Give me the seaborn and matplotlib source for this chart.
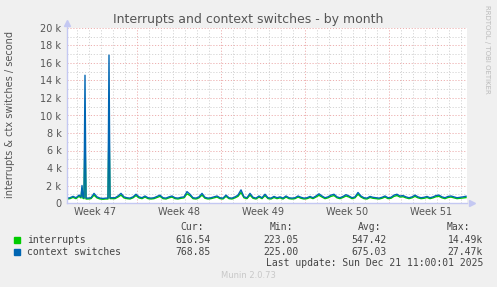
import numpy as np
import pandas as pd
import matplotlib
matplotlib.use("Agg")
import matplotlib.pyplot as plt
import seaborn as sns

# ---------------- data (per second), sampled every 6 h from Nov 18 04:00 ----------------
hours_base = list(range(0, 800, 6))
ctx_base = [
    550, 600, 760, 600, 900, 2000, 14600, 560, 600, 1100,
    700, 560, 520, 560, 16900, 600, 600, 800, 1100, 700,
    600, 560, 700, 1000, 700, 600, 800, 600, 560, 600,
    750, 900, 600, 560, 700, 800, 600, 560, 650, 700,
    1300, 1000, 600, 560, 700, 1100, 650, 560, 600, 700,
    800, 600, 560, 900, 600, 560, 700, 900, 1500, 700,
    600, 1100, 650, 560, 800, 600, 1000, 600, 560, 750,
    600, 700, 560, 800, 600, 560, 600, 800, 650, 560,
    600, 750, 600, 800, 1050, 800, 600, 700, 900, 1000,
    700, 600, 750, 950, 800, 600, 700, 1200, 800, 600,
    560, 750, 650, 600, 560, 650, 800, 600, 650, 900,
    1000, 800, 850, 700, 600, 700, 900, 700, 600, 650,
    750, 600, 700, 850, 900, 700, 600, 750, 800, 700,
    600, 650, 700, 770,
]
int_base = [
    450, 500, 640, 500, 760, 1700, 8100, 460, 500, 900,
    580, 460, 430, 460, 9400, 500, 500, 680, 900, 580,
    500, 460, 590, 850, 580, 500, 680, 500, 460, 500,
    630, 760, 500, 460, 590, 680, 500, 460, 540, 590,
    1050, 850, 500, 460, 590, 900, 540, 460, 500, 590,
    680, 500, 460, 760, 500, 460, 590, 760, 1200, 590,
    500, 900, 540, 460, 680, 500, 850, 500, 460, 630,
    500, 590, 460, 680, 500, 460, 500, 680, 540, 460,
    500, 630, 500, 680, 880, 680, 500, 590, 760, 850,
    590, 500, 630, 800, 680, 500, 590, 1000, 680, 500,
    460, 630, 540, 500, 460, 540, 680, 500, 540, 760,
    850, 680, 720, 590, 500, 590, 760, 590, 500, 540,
    630, 500, 590, 720, 760, 590, 500, 630, 680, 590,
    500, 540, 590, 620,
]
# extra 2-hourly samples next to the short spikes
hours_extra = [28, 32, 34, 38, 82, 86]
ctx_extra = [700, 650, 600, 560, 560, 600]
int_extra = [580, 540, 500, 460, 460, 500]

week_labels = ["Week 47", "Week 48", "Week 49", "Week 50", "Week 51"]
y_ticks = [0, 2000, 4000, 6000, 8000, 10000, 12000, 14000, 16000, 18000, 20000]
y_labels = ["0", "2 k", "4 k", "6 k", "8 k", "10 k", "12 k", "14 k", "16 k", "18 k", "20 k"]

legend_names = ["interrupts", "context switches"]
cur_vals = ["616.54", "768.85"]
min_vals = ["223.05", "225.00"]
avg_vals = ["547.42", "675.03"]
max_vals = ["14.49k", "27.47k"]
colors = ["#00CC00", "#0066B3"]

# ---------------- build table ----------------
base = pd.DataFrame({"hour": hours_base, "interrupts": int_base, "context switches": ctx_base})
extra = pd.DataFrame({"hour": hours_extra, "interrupts": int_extra, "context switches": ctx_extra})
df = pd.concat([base, extra]).sort_values("hour").reset_index(drop=True)
long = df.melt(id_vars="hour", var_name="series", value_name="value")

# ---------------- figure ----------------
W, H = 497, 287
fig = plt.figure(figsize=(W / 100, H / 100), dpi=100, facecolor="#F0F0F0")
L, R, T, B = 67, 467, 28, 203
ax = fig.add_axes([L / W, (H - B) / H, (R - L) / W, (B - T) / H])
ax.set_facecolor("white")

XMAX = 800
ax.set_xlim(0, XMAX)
ax.set_ylim(0, 20000)

grey = "#D4D4D4"
red = "#EDB0B0"
dash = (0, (1.2, 1.8))
week0 = 140  # Monday Nov 24 00:00, hours since start
for d in range(week0 - 24 * 5, XMAX, 24):
    is_week = (d - week0) % 168 == 0
    ax.axvline(d, color=red if is_week else grey, lw=0.7, ls=dash, zorder=1)
for yv in range(1000, 20001, 1000):
    ax.axhline(yv, color=red if yv % 2000 == 0 else grey, lw=0.7, ls=dash, zorder=1)

sns.lineplot(data=long, x="hour", y="value", hue="series",
             hue_order=legend_names, palette=colors, lw=1.0,
             legend=False, ax=ax, zorder=3)

ax.set_xlabel("")
ax.set_ylabel("")
ax.set_yticks(y_ticks)
ax.set_yticklabels(y_labels)
ax.set_xticks([week0 - 84 + 168 * k for k in range(len(week_labels))])
ax.set_xticklabels(week_labels)
ax.tick_params(axis="both", length=0, labelsize=7, colors="#555555", pad=4)
ax.tick_params(axis="x", pad=3)
for s in ax.spines.values():
    s.set_visible(False)

# axes with arrows
acol = "#C4C8F2"
ax.plot([0, 0], [0, 1.03], transform=ax.transAxes, color=acol, lw=1, clip_on=False, zorder=4)
ax.plot([0, 1.0], [0, 0], transform=ax.transAxes, color=acol, lw=1, clip_on=False, zorder=4)
ax.plot([0], [1.03], marker="^", ms=4, color=acol, transform=ax.transAxes, clip_on=False, zorder=4)
ax.plot([1.012], [0], marker=">", ms=4, color=acol, transform=ax.transAxes, clip_on=False, zorder=4)

# texts
def fx(px):
    return px / W

def fy(py):
    return 1 - py / H

fig.text(fx(248), fy(19), "Interrupts and context switches - by month",
         ha="center", va="center", fontsize=9, color="#555555")
fig.text(fx(10), fy(115), "interrupts & ctx switches / second", rotation=90,
         ha="center", va="center", fontsize=7, color="#555555")
fig.text(fx(487), fy(5), "RRDTOOL / TOBI OETIKER", rotation=-90,
         ha="center", va="top", fontsize=5, color="#BBBBBB")

mono = "DejaVu Sans Mono"
tc = "#444444"
fs = 7
for hx, lbl in [(204, "Cur:"), (293, "Min:"), (381, "Avg:"), (470, "Max:")]:
    fig.text(fx(hx), fy(227), lbl, ha="right", va="center", family=mono, fontsize=fs, color=tc)
rows_y = [240, 252]
for i in range(2):
    yy = rows_y[i]
    fig.patches.append(plt.Rectangle((fx(14), fy(yy + 3)), 6 / W, 6 / H,
                                     transform=fig.transFigure, color=colors[i], figure=fig))
    fig.text(fx(27), fy(yy), legend_names[i], ha="left", va="center", family=mono, fontsize=fs, color=tc)
    for rx, vals in [(211, cur_vals), (299, min_vals), (387, avg_vals), (483, max_vals)]:
        fig.text(fx(rx), fy(yy), vals[i], ha="right", va="center", family=mono, fontsize=fs, color=tc)
fig.text(fx(483), fy(263), "Last update: Sun Dec 21 11:00:01 2025", ha="right", va="center",
         family=mono, fontsize=fs, color=tc)
fig.text(fx(248), fy(276), "Munin 2.0.73", ha="center", va="center", fontsize=6, color="#C8C8C8")

fig.savefig("out.png", dpi=100, facecolor=fig.get_facecolor())
